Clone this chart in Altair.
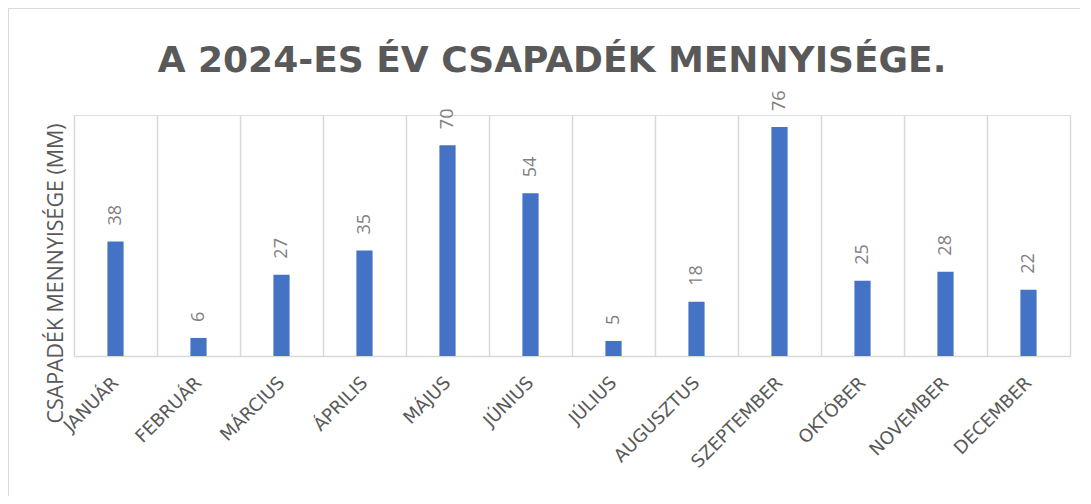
import altair as alt
import pandas as pd

months = ["JANUÁR", "FEBRUÁR", "MÁRCIUS", "ÁPRILIS", "MÁJUS", "JÚNIUS",
          "JÚLIUS", "AUGUSZTUS", "SZEPTEMBER", "OKTÓBER", "NOVEMBER", "DECEMBER"]
rain = [38, 6, 27, 35, 70, 54, 5, 18, 76, 25, 28, 22]
title_text = ["A 2024-ES ÉV CSAPADÉK MENNYISÉGE."]
y_title = "CSAPADÉK MENNYISÉGE (MM)"

df = pd.DataFrame({"honap": months, "mm": rain})
tdf = pd.DataFrame({"t": title_text})

W, H = 996, 241

x_enc = alt.X("honap:N", sort=months, title=None,
              scale=alt.Scale(paddingInner=0, paddingOuter=0),
              axis=alt.Axis(labelAngle=-45, labelAlign="right", labelBaseline="middle",
                            labelPadding=24, labelFont="DejaVu Sans", labelFontSize=18,
                            labelColor="#595959", ticks=False, grid=True, tickBand="extent",
                            gridColor="#D9D9D9", gridWidth=1.5, domainColor="#D9D9D9",
                            domainWidth=1.5))
y_enc = alt.Y("mm:Q", scale=alt.Scale(domain=[0, 80]),
              axis=alt.Axis(title=y_title, labels=False, ticks=False, domain=False, grid=False,
                            titleFont="Open Sans", titleFontSize=21.4, titleFontWeight="normal",
                            titleColor="#595959", titleX=-18, titleY=158,
                            titleAlign="center", titleBaseline="middle"))

border = alt.Chart(df).mark_rect(filled=False, stroke="#D9D9D9", strokeWidth=1.5).encode(
    x=alt.value(-66), x2=alt.value(1200), y=alt.value(-107), y2=alt.value(600))

bars = alt.Chart(df).mark_bar(color="#4472C4", width=alt.RelativeBandSize(0.195)).encode(
    x=x_enc, y=y_enc)

labels = alt.Chart(df).mark_text(angle=270, align="left", baseline="middle", dx=16,
                                 font="Open Sans", fontSize=18, color="#7F7F7F").encode(
    x=alt.X("honap:N", sort=months), y="mm:Q", text="mm:Q")

title = alt.Chart(tdf).mark_text(align="center", baseline="alphabetic", font="DejaVu Sans",
                                 fontSize=36, fontWeight="bold", color="#595959").encode(
    x=alt.value(478), y=alt.value(-43), text="t:N")

chart = alt.layer(border, bars, labels, title).properties(
    width=W, height=H,
    autosize=alt.AutoSizeParams(type="none"),
    padding={"left": 66, "top": 107, "right": 10, "bottom": 140},
).configure_view(stroke=None).configure(background="white")

chart.save("out.html", embed_options={"renderer": "svg", "actions": False})
